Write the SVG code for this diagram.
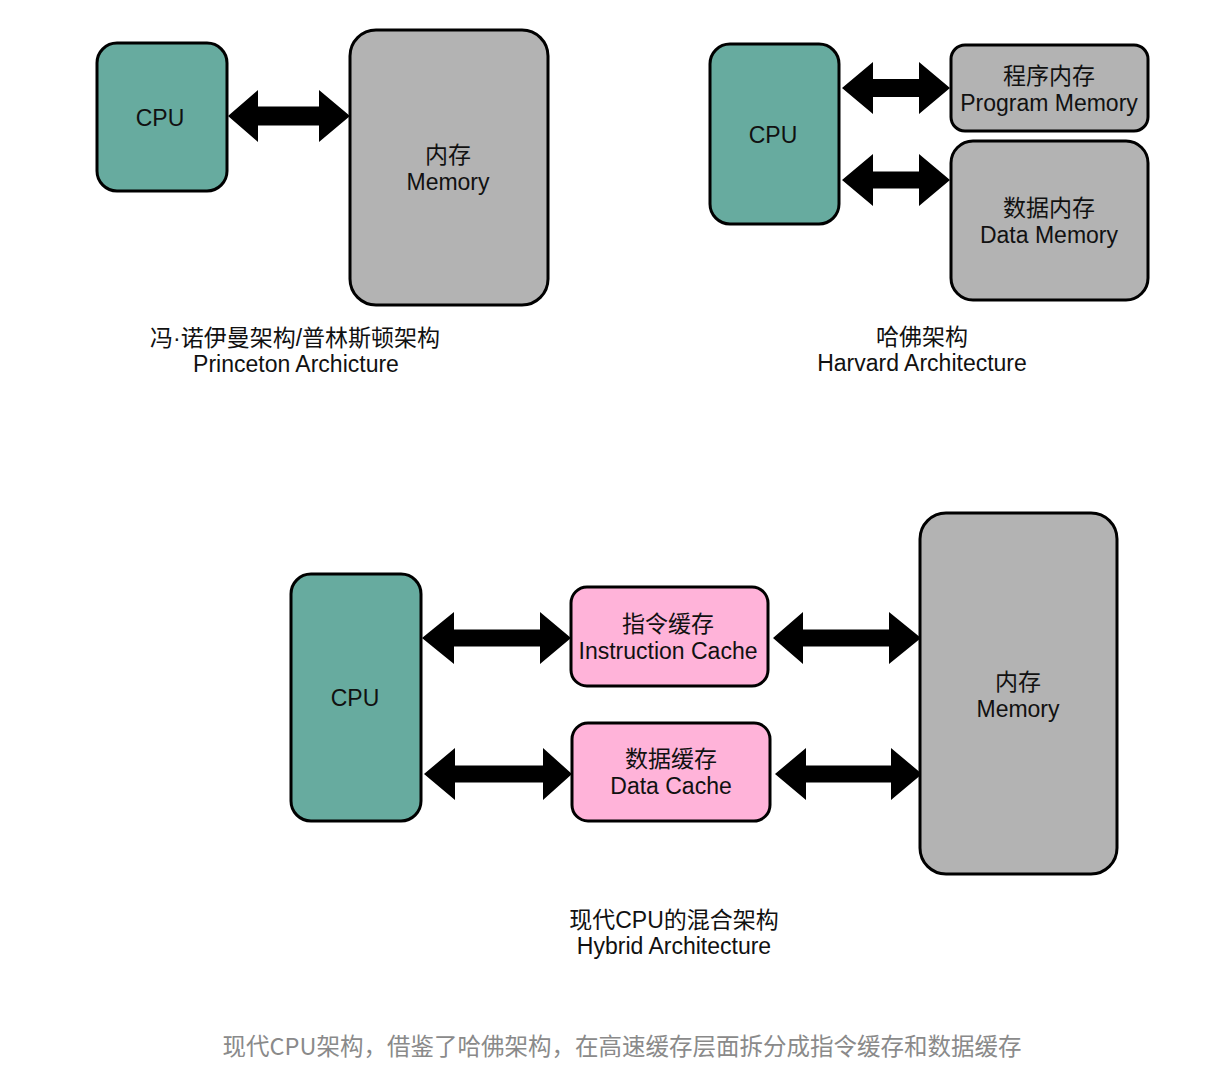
<svg xmlns="http://www.w3.org/2000/svg" width="1230" height="1080" viewBox="0 0 1230 1080">
<style>
.box{stroke:#000;stroke-width:3}
.cpu{fill:#67AB9F}
.mem{fill:#B3B3B3}
.cache{fill:#FFB3D9}
.arr{fill:#000}
text{font-family:"Liberation Sans","Noto Sans CJK SC",sans-serif;font-size:23px;fill:#111;text-anchor:middle;dominant-baseline:central}
.note{fill:#8a8a8a;font-size:23.5px;font-family:"Noto Sans CJK SC","Liberation Sans",sans-serif}
</style>
<rect width="1230" height="1080" fill="#fff"/>
<g id="connectors">
<path class="arr" d="M228 116 L258 90 L258 106.5 L319 106.5 L319 90 L350 116 L319 142 L319 125.5 L258 125.5 L258 142 Z"/>
<path class="arr" d="M842 88 L873 62 L873 79 L919 79 L919 62 L950 88 L919 114 L919 97 L873 97 L873 114 Z"/>
<path class="arr" d="M842 180 L873 154 L873 171.5 L919 171.5 L919 154 L950 180 L919 206 L919 188.5 L873 188.5 L873 206 Z"/>
<path class="arr" d="M422 638 L454 612 L454 629.5 L540 629.5 L540 612 L571 638 L540 664 L540 646.5 L454 646.5 L454 664 Z"/>
<path class="arr" d="M773 638 L803 612 L803 629.5 L889 629.5 L889 612 L921 638 L889 664 L889 646.5 L803 646.5 L803 664 Z"/>
<path class="arr" d="M424 774 L455 748 L455 765.5 L543 765.5 L543 748 L572 774 L543 800 L543 782.5 L455 782.5 L455 800 Z"/>
<path class="arr" d="M775 774 L806 748 L806 765.5 L891 765.5 L891 748 L922 774 L891 800 L891 782.5 L806 782.5 L806 800 Z"/>
</g>
<g id="p-cpu"><rect class="box cpu" x="97" y="43" width="130" height="148" rx="20"/><text x="160" y="118">CPU</text></g>
<g id="p-mem"><rect class="box mem" x="350" y="30" width="198" height="275" rx="26"/><text x="448" y="155">内存</text><text x="448" y="182">Memory</text></g>
<g id="p-label"><text x="295" y="338">冯·诺伊曼架构/普林斯顿架构</text><text x="296" y="364">Princeton Archicture</text></g>
<g id="h-cpu"><rect class="box cpu" x="710" y="44" width="129" height="180" rx="20"/><text x="773" y="135">CPU</text></g>
<g id="h-pmem"><rect class="box mem" x="951" y="45" width="197" height="86" rx="14"/><text x="1049" y="76">程序内存</text><text x="1049" y="103">Program Memory</text></g>
<g id="h-dmem"><rect class="box mem" x="951" y="141" width="197" height="159" rx="22"/><text x="1049" y="208">数据内存</text><text x="1049" y="235">Data Memory</text></g>
<g id="h-label"><text x="922" y="337">哈佛架构</text><text x="922" y="363">Harvard Architecture</text></g>
<g id="m-cpu"><rect class="box cpu" x="291" y="574" width="130" height="247" rx="20"/><text x="355" y="698">CPU</text></g>
<g id="m-icache"><rect class="box cache" x="571" y="587" width="197" height="99" rx="16"/><text x="668" y="624">指令缓存</text><text x="668" y="651">Instruction Cache</text></g>
<g id="m-dcache"><rect class="box cache" x="572" y="723" width="198" height="98" rx="16"/><text x="671" y="759">数据缓存</text><text x="671" y="786">Data Cache</text></g>
<g id="m-mem"><rect class="box mem" x="920" y="513" width="197" height="361" rx="26"/><text x="1018" y="682">内存</text><text x="1018" y="709">Memory</text></g>
<g id="m-label"><text x="674" y="920">现代CPU的混合架构</text><text x="674" y="946">Hybrid Architecture</text></g>
<g id="caption"><text class="note" x="622" y="1045">现代CPU架构，借鉴了哈佛架构，在高速缓存层面拆分成指令缓存和数据缓存</text></g>
</svg>
